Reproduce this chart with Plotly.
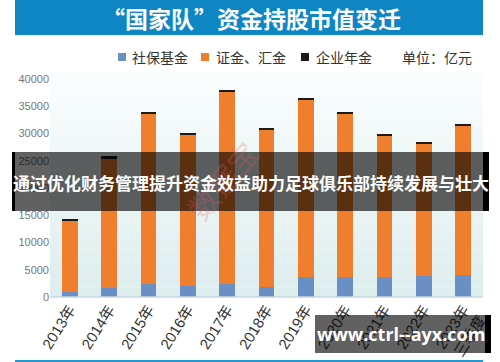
import plotly.graph_objects as go

# ---- data ----
years = ["2013年", "2014年", "2015年", "2016年", "2017年", "2018年", "2019年",
         "2020年", "2021年", "2022年", "2023年<br>三季度"]
social_fund = [1000, 1600, 2400, 2100, 2300, 1800, 3600, 3600, 3600, 3850, 4100]
csf_huijin = [13000, 23900, 31200, 27600, 35300, 28900, 32600, 30000, 25900, 24150, 27200]
enterprise_annuity = [300, 350, 400, 400, 400, 400, 400, 400, 400, 400, 400]
series_names = ["社保基金", "证金、汇金", "企业年金"]
y_ticks = [0, 5000, 10000, 15000, 20000, 25000, 30000, 35000, 40000]
title_text = "“国家队”资金持股市值变迁"
unit_text = "单位：亿元"
banner_text = "通过优化财务管理提升资金效益助力足球俱乐部持续发展与壮大"
site_text = "www.ctrl--ayx.com"

W, H = 500, 362
L, R, T, B = 50, 17, 79, 65
PW, PH = W - L - R, H - T - B


def px(x):
    return (x - L) / PW


def py(y):
    return (H - B - y) / PH


colors = ["#6a8fc4", "#ef7f2c", "#1a1a1a"]
font_cjk = "Noto Sans CJK SC, Noto Sans, sans-serif"

fig = go.Figure()
for name, vals, c in zip(series_names, [social_fund, csf_huijin, enterprise_annuity], colors):
    fig.add_trace(go.Bar(x=years, y=vals, name=name, marker=dict(color=c, line=dict(width=0)),
                         showlegend=False, hoverinfo="skip"))

shapes = []
# gradient background in plot area
n = 24
top_c = (250, 253, 253)
bot_c = (222, 237, 238)
for i in range(n):
    f = i / (n - 1)
    col = tuple(int(round(top_c[k] + (bot_c[k] - top_c[k]) * f)) for k in range(3))
    shapes.append(dict(type="rect", xref="paper", yref="paper", layer="below",
                       x0=0, x1=1, y0=1.03 - (i + 1) * 1.03 / n, y1=1.03 - i * 1.03 / n,
                       fillcolor="rgb(%d,%d,%d)" % col, line=dict(width=0)))
# axis line
shapes.append(dict(type="line", xref="paper", yref="paper", x0=0, x1=1, y0=0, y1=0,
                   line=dict(color="#c9d7de", width=1.5)))
# title bar
shapes.append(dict(type="rect", xref="paper", yref="paper", x0=px(15), x1=px(483),
                   y0=py(35), y1=py(0), fillcolor="#0f86c4", line=dict(width=0)))
# bottom blue line
shapes.append(dict(type="line", xref="paper", yref="paper", x0=px(15), x1=px(483),
                   y0=py(361), y1=py(361), line=dict(color="#2a98d0", width=2)))
# banner overlay
shapes.append(dict(type="rect", xref="paper", yref="paper", x0=px(15), x1=px(483),
                   y0=py(211), y1=py(152), fillcolor="rgba(0,0,0,0.62)", line=dict(width=0)))
shapes.append(dict(type="rect", xref="paper", yref="paper", x0=px(12), x1=px(15),
                   y0=py(211), y1=py(152), fillcolor="#000", line=dict(width=0)))
shapes.append(dict(type="rect", xref="paper", yref="paper", x0=px(483), x1=px(489),
                   y0=py(211), y1=py(152), fillcolor="#000", line=dict(width=0)))
# site watermark box
shapes.append(dict(type="rect", xref="paper", yref="paper", x0=px(315), x1=px(485),
                   y0=py(353), y1=py(315), fillcolor="rgba(0,0,0,0.62)", line=dict(width=0)))
shapes.append(dict(type="rect", xref="paper", yref="paper", x0=px(485), x1=px(491),
                   y0=py(353), y1=py(315), fillcolor="#000", line=dict(width=0)))

annotations = []
annotations.append(dict(text="<b>" + title_text + "</b>", xref="paper", yref="paper",
                        x=px(251), y=py(18), xanchor="center", yanchor="middle", showarrow=False,
                        font=dict(size=23, color="white", family=font_cjk)))
# manual legend
leg_sq_x = [122, 205, 305]
leg_txt_x = [130, 214, 314]
for sx, tx, c, name in zip(leg_sq_x, leg_txt_x, colors, series_names):
    shapes.append(dict(type="rect", xref="paper", yref="paper", x0=px(sx - 4), x1=px(sx + 4),
                       y0=py(61), y1=py(53), fillcolor=c, line=dict(width=0)))
    annotations.append(dict(text=name, xref="paper", yref="paper", x=px(tx), y=py(57),
                            xanchor="left", yanchor="middle", showarrow=False,
                            font=dict(size=14, color="#333", family=font_cjk)))
annotations.append(dict(text=unit_text, xref="paper", yref="paper", x=px(474), y=py(57),
                        xanchor="right", yanchor="middle", showarrow=False,
                        font=dict(size=14, color="#333", family=font_cjk)))
# faint red stamp
annotations.append(dict(text="数据宝", xref="paper", yref="paper", x=px(222), y=py(180),
                        xanchor="center", yanchor="middle", showarrow=False, textangle=-50,
                        font=dict(size=30, color="rgba(235,90,100,0.25)", family=font_cjk)))
annotations.append(dict(text="<b>" + banner_text + "</b>", xref="paper", yref="paper",
                        x=px(251), y=py(182), xanchor="center", yanchor="middle",
                        showarrow=False,
                        font=dict(size=17, color="white", family=font_cjk)))
annotations.append(dict(text="<b>" + site_text + "</b>", xref="paper", yref="paper",
                        x=px(401), y=py(334), xanchor="center", yanchor="middle",
                        showarrow=False,
                        font=dict(size=18, color="white", family="Open Sans, sans-serif")))

fig.update_layout(
    width=W, height=H, margin=dict(l=L, r=R, t=T, b=B, autoexpand=False),
    barmode="stack", bargap=0.6,
    paper_bgcolor="white", plot_bgcolor="rgba(0,0,0,0)",
    shapes=shapes, annotations=annotations,
    xaxis=dict(tickangle=-58, showgrid=False, showline=False, ticks="", automargin=False,
               tickfont=dict(size=15, color="#333", family="Liberation Sans, Arial, " + font_cjk)),
    yaxis=dict(range=[0, 40000], tickvals=y_ticks, tickformat="d", showgrid=False,
               zeroline=False, showline=False, ticks="", automargin=False,
               tickfont=dict(size=11, color="#777", family="Liberation Sans, Arial, sans-serif")),
)

fig.write_html("out.html", config={"displayModeBar": False},
               post_script="document.body.style.margin='0';document.body.style.overflow='hidden';")
